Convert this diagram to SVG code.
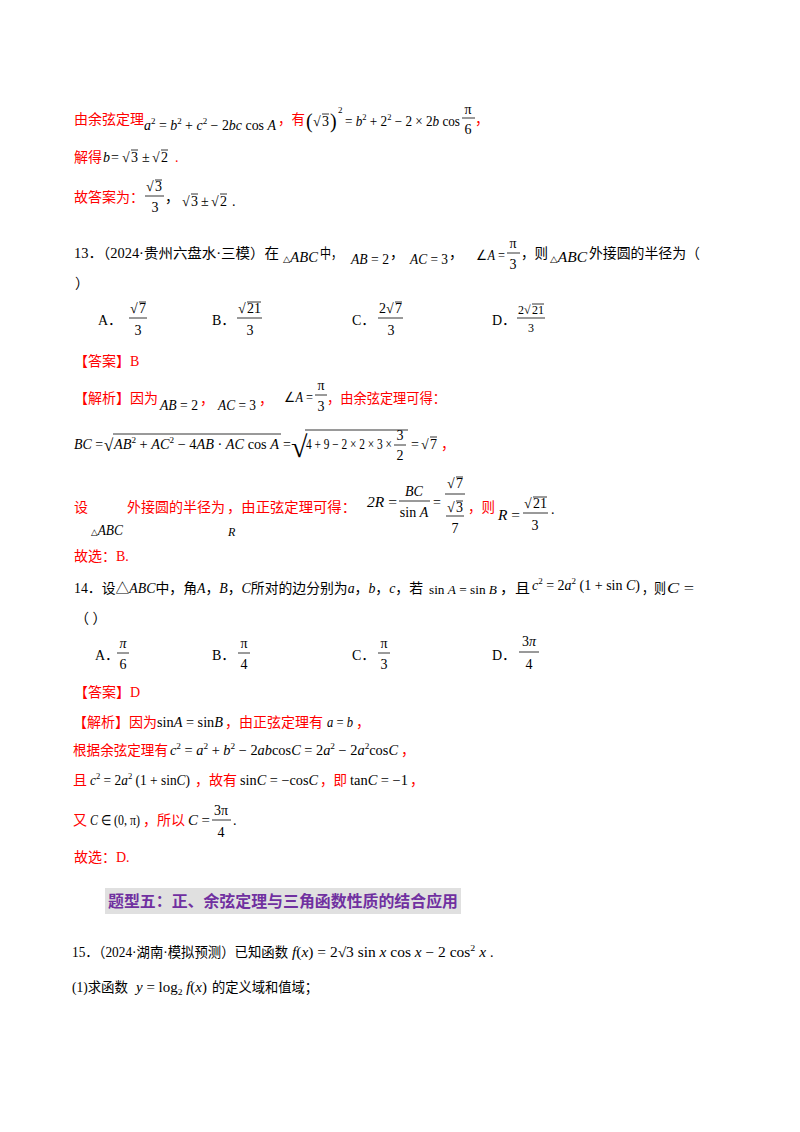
<svg xmlns="http://www.w3.org/2000/svg" width="800" height="1132" viewBox="0 0 800 1132">
<style>
text{font-family:"Liberation Serif","Noto Sans CJK SC",serif;font-size:14px;fill:#000}
.r{fill:#f00}
.m{font-family:"Liberation Serif",serif;font-style:italic}
.n{font-family:"Liberation Serif",serif;font-style:normal}
.s{font-size:12px}
.t{font-size:9px}
.c{text-anchor:middle}
.fl{stroke:#000;stroke-width:0.8}
.h{font-family:"Noto Sans CJK SC",sans-serif;font-weight:bold;font-size:15.5px;fill:#7030a0}
</style>
<rect width="800" height="1132" fill="#fff"/>
<g id="p12">
<text x="74" y="124" class="r" textLength="70" lengthAdjust="spacingAndGlyphs">由余弦定理</text>
<text x="144" y="130" class="m" textLength="132" lengthAdjust="spacingAndGlyphs">a<tspan class="n t" dy="-6">2</tspan><tspan dy="6" class="n"> = </tspan>b<tspan class="n t" dy="-6">2</tspan><tspan dy="6" class="n"> + </tspan>c<tspan class="n t" dy="-6">2</tspan><tspan dy="6" class="n"> − 2</tspan>bc<tspan class="n"> cos </tspan>A</text>
<text x="278" y="124" class="r" textLength="27" lengthAdjust="spacingAndGlyphs">，有</text>
<text x="306" y="128" class="n" style="font-size:20px">(</text><text x="313" y="126" class="n">√</text><text x="322" y="126" class="n">3</text><line x1="322" y1="114" x2="329" y2="114" class="fl"/><text x="330" y="128" class="n" style="font-size:20px">)</text><text x="338" y="113" class="n t">2</text>
<text x="345" y="126" class="n" textLength="115" lengthAdjust="spacingAndGlyphs">= <tspan class="m">b</tspan><tspan class="t" dy="-6">2</tspan><tspan dy="6"> + 2</tspan><tspan class="t" dy="-6">2</tspan><tspan dy="6"> − 2 × 2</tspan><tspan class="m">b</tspan> cos</text>
<text x="468" y="114" class="n c">π</text><line x1="462" y1="118" x2="475" y2="118" class="fl"/><text x="468" y="134" class="n c">6</text>
<text x="475" y="124" class="r">，</text>
<text x="74" y="162" class="r" textLength="28" lengthAdjust="spacingAndGlyphs">解得</text>
<text x="103" y="162" class="m">b</text><text x="111" y="162" class="n">=</text>
<text x="122" y="162" class="n">√</text><text x="131" y="162" class="n">3</text><line x1="131" y1="150" x2="138" y2="150" class="fl"/>
<text x="142" y="162" class="n">±</text>
<text x="152" y="162" class="n">√</text><text x="161" y="162" class="n">2</text><line x1="161" y1="150" x2="168" y2="150" class="fl"/>
<text x="175" y="162" class="r">.</text>
<text x="74" y="202" class="r" textLength="70" lengthAdjust="spacingAndGlyphs">故答案为：</text>
<text x="146" y="191" class="n">√</text><text x="155" y="191" class="n">3</text><line x1="155" y1="180" x2="162" y2="180" class="fl"/><line x1="145" y1="196" x2="164" y2="196" class="fl"/><text x="155" y="212" class="n c">3</text>
<text x="165" y="202">，</text>
<text x="182" y="206" class="n">√</text><text x="191" y="206" class="n">3</text><line x1="191" y1="194" x2="198" y2="194" class="fl"/>
<text x="201" y="206" class="n">±</text>
<text x="211" y="206" class="n">√</text><text x="220" y="206" class="n">2</text><line x1="220" y1="194" x2="227" y2="194" class="fl"/>
<text x="232" y="206" class="n">.</text>
</g>
<g id="q13">
<text x="74" y="258" textLength="205" lengthAdjust="spacingAndGlyphs">13．（2024·贵州六盘水·三模）在</text>
<text x="283" y="262" class="m" textLength="35" lengthAdjust="spacingAndGlyphs"><tspan class="n t">△</tspan>ABC</text>
<text x="320" y="258" textLength="22" lengthAdjust="spacingAndGlyphs">中，</text>
<text x="351" y="264" class="m" textLength="38" lengthAdjust="spacingAndGlyphs">AB<tspan class="n"> = 2</tspan></text>
<text x="390" y="258">，</text>
<text x="410" y="264" class="m" textLength="38" lengthAdjust="spacingAndGlyphs">AC<tspan class="n"> = 3</tspan></text>
<text x="449" y="258">，</text>
<text x="476" y="260" class="n" textLength="29" lengthAdjust="spacingAndGlyphs">∠<tspan class="m">A</tspan> =</text>
<text x="513" y="248" class="n c">π</text><line x1="507" y1="253" x2="520" y2="253" class="fl"/><text x="513" y="269" class="n c">3</text>
<text x="521" y="258" textLength="27" lengthAdjust="spacingAndGlyphs">，则</text>
<text x="550" y="262" class="m" textLength="37" lengthAdjust="spacingAndGlyphs"><tspan class="n t">△</tspan>ABC</text>
<text x="589" y="258" textLength="111" lengthAdjust="spacingAndGlyphs">外接圆的半径为（</text>
<text x="75" y="288">）</text>
<text x="98" y="325">A．</text>
<text x="130" y="313" class="n">√</text><text x="139" y="313" class="n">7</text><line x1="139" y1="302" x2="146" y2="302" class="fl"/><line x1="129" y1="318" x2="147" y2="318" class="fl"/><text x="138" y="335" class="n c">3</text>
<text x="212" y="325">B．</text>
<text x="238" y="313" class="n">√</text><text x="247" y="313" class="n">21</text><line x1="247" y1="302" x2="261" y2="302" class="fl"/><line x1="237" y1="318" x2="262" y2="318" class="fl"/><text x="250" y="335" class="n c">3</text>
<text x="352" y="325">C．</text>
<text x="379" y="313" class="n">2√</text><text x="395" y="313" class="n">7</text><line x1="395" y1="302" x2="402" y2="302" class="fl"/><line x1="378" y1="318" x2="403" y2="318" class="fl"/><text x="391" y="335" class="n c">3</text>
<text x="492" y="325">D．</text>
<text x="518" y="314" class="n s">2√</text><text x="532" y="314" class="n s">21</text><line x1="532" y1="304" x2="544" y2="304" class="fl"/><line x1="517" y1="318" x2="545" y2="318" class="fl"/><text x="531" y="332" class="n s c">3</text>
<text x="74" y="366" class="r">【答案】B</text>
</g>
<g id="a13">
<text x="74" y="403" class="r" textLength="84" lengthAdjust="spacingAndGlyphs">【解析】因为</text>
<text x="160" y="410" class="m" textLength="38" lengthAdjust="spacingAndGlyphs">AB<tspan class="n"> = 2</tspan></text>
<text x="200" y="404" class="r">，</text>
<text x="218" y="410" class="m" textLength="38" lengthAdjust="spacingAndGlyphs">AC<tspan class="n"> = 3</tspan></text>
<text x="259" y="404" class="r">，</text>
<text x="284" y="402" class="n" textLength="29" lengthAdjust="spacingAndGlyphs">∠<tspan class="m">A</tspan> =</text>
<text x="321" y="390" class="n c">π</text><line x1="315" y1="395" x2="327" y2="395" class="fl"/><text x="321" y="411" class="n c">3</text>
<text x="327" y="403" class="r" textLength="119" lengthAdjust="spacingAndGlyphs">，由余弦定理可得：</text>
<text x="74" y="449" class="m" textLength="29" lengthAdjust="spacingAndGlyphs">BC<tspan class="n"> =</tspan></text>
<text x="104" y="451" class="n" style="font-size:17px">√</text>
<line x1="113" y1="434" x2="281" y2="434" class="fl"/>
<text x="114" y="449" class="m" textLength="165" lengthAdjust="spacingAndGlyphs">AB<tspan class="t n" dy="-6">2</tspan><tspan class="n" dy="6"> + </tspan>AC<tspan class="t n" dy="-6">2</tspan><tspan class="n" dy="6"> − 4</tspan>AB<tspan class="n"> · </tspan>AC<tspan class="n"> cos </tspan>A</text>
<text x="283" y="449" class="n">=</text>
<text x="291" y="457" class="n" style="font-size:30px">√</text>
<line x1="305" y1="430" x2="408" y2="430" class="fl"/>
<text x="306" y="449" class="n" textLength="86" lengthAdjust="spacingAndGlyphs">4 + 9 − 2 × 2 × 3 ×</text>
<text x="400" y="440" class="n c">3</text><line x1="394" y1="445" x2="406" y2="445" class="fl"/><text x="400" y="460" class="n c">2</text>
<text x="411" y="449" class="n">=</text><text x="421" y="449" class="n">√</text><text x="430" y="449" class="n">7</text><line x1="430" y1="437" x2="437" y2="437" class="fl"/>
<text x="441" y="449" class="r">，</text>
<text x="74" y="512" class="r">设</text>
<text x="127" y="512" class="r" textLength="98" lengthAdjust="spacingAndGlyphs">外接圆的半径为</text>
<text x="227" y="512" class="r" textLength="129" lengthAdjust="spacingAndGlyphs">，由正弦定理可得：</text>
<text x="91" y="535" class="m" textLength="32" lengthAdjust="spacingAndGlyphs"><tspan class="n t">△</tspan>ABC</text>
<text x="228" y="536" class="m s">R</text>
<text x="367" y="507" class="m" textLength="30" lengthAdjust="spacingAndGlyphs">2R<tspan class="n"> =</tspan></text>
<text x="414" y="496" class="m c">BC</text><line x1="399" y1="501" x2="430" y2="501" class="fl"/><text x="414" y="517" class="n c">sin <tspan class="m">A</tspan></text>
<text x="433" y="507" class="n">=</text>
<text x="447" y="488" class="n">√</text><text x="456" y="488" class="n">7</text><line x1="456" y1="477" x2="463" y2="477" class="fl"/><line x1="445" y1="494" x2="465" y2="494" class="fl"/>
<text x="447" y="512" class="n">√</text><text x="456" y="512" class="n">3</text><line x1="456" y1="501" x2="463" y2="501" class="fl"/><line x1="446" y1="516" x2="464" y2="516" class="fl"/><text x="455" y="533" class="n c">7</text>
<text x="468" y="512" class="r" textLength="27" lengthAdjust="spacingAndGlyphs">，则</text>
<text x="498" y="520" class="m" textLength="22" lengthAdjust="spacingAndGlyphs">R<tspan class="n"> =</tspan></text>
<text x="524" y="508" class="n">√</text><text x="533" y="508" class="n">21</text><line x1="533" y1="497" x2="547" y2="497" class="fl"/><line x1="523" y1="513" x2="548" y2="513" class="fl"/><text x="535" y="530" class="n c">3</text>
<text x="551" y="514" class="n">.</text>
<text x="74" y="561" class="r">故选：B.</text>
</g>
<g id="q14">
<text x="74" y="593" textLength="349" lengthAdjust="spacingAndGlyphs">14．设△<tspan class="m">ABC</tspan>中，角<tspan class="m">A</tspan>，<tspan class="m">B</tspan>，<tspan class="m">C</tspan>所对的边分别为<tspan class="m">a</tspan>，<tspan class="m">b</tspan>，<tspan class="m">c</tspan>，若</text>
<text x="429" y="594" class="n s" textLength="68" lengthAdjust="spacingAndGlyphs">sin <tspan class="m">A</tspan> = sin <tspan class="m">B</tspan></text>
<text x="500" y="593" textLength="30" lengthAdjust="spacingAndGlyphs">，且</text>
<text x="532" y="590" class="m" textLength="108" lengthAdjust="spacingAndGlyphs">c<tspan class="n t" dy="-6">2</tspan><tspan class="n" dy="6"> = 2</tspan>a<tspan class="n t" dy="-6">2</tspan><tspan class="n" dy="6"> (1 + sin </tspan>C<tspan class="n">)</tspan></text>
<text x="642" y="593" textLength="24" lengthAdjust="spacingAndGlyphs">，则</text>
<text x="667" y="593" class="m" textLength="27" lengthAdjust="spacingAndGlyphs">C<tspan class="n"> =</tspan></text>
<text x="75" y="623">（    ）</text>
<text x="95" y="660">A．</text>
<text x="123" y="648" class="m c">π</text><line x1="117" y1="653" x2="129" y2="653" class="fl"/><text x="123" y="669" class="n c">6</text>
<text x="212" y="660">B．</text>
<text x="244" y="648" class="n c">π</text><line x1="238" y1="653" x2="250" y2="653" class="fl"/><text x="244" y="669" class="n c">4</text>
<text x="352" y="660">C．</text>
<text x="384" y="648" class="n c">π</text><line x1="378" y1="653" x2="390" y2="653" class="fl"/><text x="384" y="669" class="n c">3</text>
<text x="492" y="660">D．</text>
<text x="529" y="646" class="n c">3<tspan class="m">π</tspan></text><line x1="519" y1="652" x2="539" y2="652" class="fl"/><text x="529" y="669" class="n c">4</text>
<text x="74" y="697" class="r">【答案】D</text>
</g>
<g id="a14">
<text x="73" y="727" class="r" textLength="84" lengthAdjust="spacingAndGlyphs">【解析】因为</text>
<text x="157" y="727" class="n" textLength="66" lengthAdjust="spacingAndGlyphs">sin<tspan class="m">A</tspan> = sin<tspan class="m">B</tspan></text>
<text x="225" y="727" class="r" textLength="98" lengthAdjust="spacingAndGlyphs">，由正弦定理有</text>
<text x="327" y="727" class="m" textLength="26" lengthAdjust="spacingAndGlyphs">a<tspan class="n"> = </tspan>b</text>
<text x="356" y="727" class="r">，</text>
<text x="73" y="755" class="r" textLength="95" lengthAdjust="spacingAndGlyphs">根据余弦定理有</text>
<text x="170" y="755" class="m" textLength="228" lengthAdjust="spacingAndGlyphs">c<tspan class="n t" dy="-6">2</tspan><tspan class="n" dy="6"> = </tspan>a<tspan class="n t" dy="-6">2</tspan><tspan class="n" dy="6"> + </tspan>b<tspan class="n t" dy="-6">2</tspan><tspan class="n" dy="6"> − 2</tspan>ab<tspan class="n">cos</tspan>C<tspan class="n"> = 2</tspan>a<tspan class="n t" dy="-6">2</tspan><tspan class="n" dy="6"> − 2</tspan>a<tspan class="n t" dy="-6">2</tspan><tspan class="n" dy="6">cos</tspan>C</text>
<text x="401" y="755" class="r">，</text>
<text x="73" y="785" class="r">且</text>
<text x="90" y="785" class="m" textLength="100" lengthAdjust="spacingAndGlyphs">c<tspan class="n t" dy="-6">2</tspan><tspan class="n" dy="6"> = 2</tspan>a<tspan class="n t" dy="-6">2</tspan><tspan class="n" dy="6"> (1 + sin</tspan>C<tspan class="n">)</tspan></text>
<text x="195" y="785" class="r" textLength="42" lengthAdjust="spacingAndGlyphs">，故有</text>
<text x="240" y="785" class="n" textLength="78" lengthAdjust="spacingAndGlyphs">sin<tspan class="m">C</tspan> = −cos<tspan class="m">C</tspan></text>
<text x="320" y="785" class="r" textLength="27" lengthAdjust="spacingAndGlyphs">，即</text>
<text x="350" y="785" class="n" textLength="58" lengthAdjust="spacingAndGlyphs">tan<tspan class="m">C</tspan> = −1</text>
<text x="410" y="785" class="r">，</text>
<text x="73" y="825" class="r">又</text>
<text x="90" y="825" class="m" textLength="50" lengthAdjust="spacingAndGlyphs">C<tspan class="n"> ∈ (0, π)</tspan></text>
<text x="143" y="825" class="r" textLength="42" lengthAdjust="spacingAndGlyphs">，所以</text>
<text x="188" y="825" class="m" textLength="22" lengthAdjust="spacingAndGlyphs">C<tspan class="n"> =</tspan></text>
<text x="221" y="815" class="n c">3π</text><line x1="212" y1="820" x2="231" y2="820" class="fl"/><text x="221" y="837" class="n c">4</text><text x="233" y="825" class="n">.</text>
<text x="74" y="862" class="r">故选：D.</text>
</g>
<g id="banner">
<rect x="105" y="888" width="356" height="26" fill="#e0e0e0"/>
<text x="108" y="907" class="h" textLength="350" lengthAdjust="spacingAndGlyphs">题型五：正、余弦定理与三角函数性质的结合应用</text>
</g>
<g id="q15">
<text x="72" y="957" textLength="216" lengthAdjust="spacingAndGlyphs">15．（2024·湖南·模拟预测）已知函数</text>
<text x="292" y="957" class="m" textLength="194" lengthAdjust="spacingAndGlyphs">f<tspan class="n">(</tspan>x<tspan class="n">) = 2√3 sin </tspan>x<tspan class="n"> cos </tspan>x<tspan class="n"> − 2 cos</tspan><tspan class="n t" dy="-6">2</tspan><tspan dy="6"> x</tspan></text>
<text x="490" y="957" class="n">.</text>
<text x="72" y="992" textLength="56" lengthAdjust="spacingAndGlyphs"><tspan class="n">(1)</tspan>求函数</text>
<text x="136" y="992" class="m" textLength="71" lengthAdjust="spacingAndGlyphs">y<tspan class="n"> = log</tspan><tspan class="n t" dy="3">2</tspan><tspan dy="-3"> f</tspan><tspan class="n">(</tspan>x<tspan class="n">)</tspan></text>
<text x="212" y="992" textLength="106" lengthAdjust="spacingAndGlyphs">的定义域和值域；</text>
</g>
</svg>
